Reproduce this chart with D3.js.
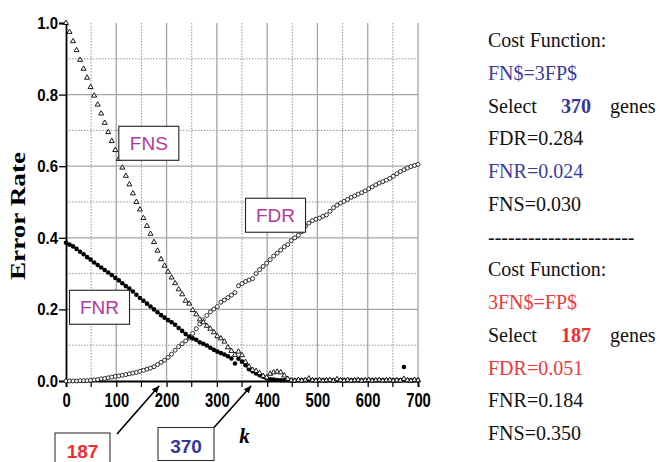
<!DOCTYPE html>
<html>
<head>
<meta charset="utf-8">
<script src="https://cdn.jsdelivr.net/npm/d3@7"></script>
<style>
  body { margin: 0; background: #fff; }
  svg { display: block; }
</style>
</head>
<body>
<svg id="chart" width="660" height="462"></svg>
<script>
// k values (number of selected genes)
const kValues = [
  0, 7, 14, 21, 28, 35, 42, 49, 56, 63,
  70, 77, 84, 91, 98, 105, 112, 119, 126, 133,
  140, 147, 154, 161, 168, 175, 182, 189, 196, 203,
  210, 217, 224, 231, 238, 245, 252, 259, 266, 273,
  280, 287, 294, 301, 308, 315, 322, 329, 336, 343,
  350, 357, 364, 371, 378, 385, 392, 399, 406, 413,
  420, 427, 434, 441, 448, 455, 462, 469, 476, 483,
  490, 497, 504, 511, 518, 525, 532, 539, 546, 553,
  560, 567, 574, 581, 588, 595, 602, 609, 616, 623,
  630, 637, 644, 651, 658, 665, 672, 679, 686, 693,
  700
];

const fnsValues = [
  1.000, 0.975, 0.949, 0.924, 0.897, 0.872, 0.847, 0.821, 0.797, 0.772,
  0.747, 0.721, 0.695, 0.670, 0.645, 0.620, 0.596, 0.573, 0.549, 0.524,
  0.500, 0.479, 0.455, 0.433, 0.411, 0.388, 0.364, 0.340, 0.322, 0.305,
  0.289, 0.273, 0.256, 0.242, 0.224, 0.216, 0.198, 0.186, 0.172, 0.164,
  0.154, 0.146, 0.136, 0.125, 0.119, 0.110, 0.094, 0.084, 0.073, 0.082,
  0.072, 0.053, 0.040, 0.031, 0.028, 0.022, 0.014, 0.010, 0.020, 0.024,
  0.026, 0.024, 0.015, 0.006, 0.002, 0.001, 0.003, 0.001, 0.003, 0.007,
  0.002, 0.001, 0.003, 0.001, 0.002, 0.003, 0.001, 0.005, 0.002, 0.001,
  0.003, 0.001, 0.002, 0.003, 0.001, 0.002, 0.003, 0.001, 0.002, 0.003,
  0.001, 0.002, 0.003, 0.001, 0.002, 0.001, 0.006, 0.002, 0.001, 0.003,
  0.002
];

const fnrValues = [
  0.386, 0.381, 0.376, 0.369, 0.361, 0.354, 0.346, 0.339, 0.331, 0.324,
  0.317, 0.310, 0.303, 0.296, 0.288, 0.281, 0.273, 0.265, 0.258, 0.250,
  0.241, 0.232, 0.224, 0.216, 0.208, 0.200, 0.192, 0.184, 0.177, 0.170,
  0.164, 0.157, 0.148, 0.140, 0.131, 0.124, 0.119, 0.115, 0.108, 0.104,
  0.099, 0.093, 0.087, 0.082, 0.078, 0.074, 0.069, 0.063, 0.049, 0.062,
  0.054, 0.044, 0.033, 0.027, 0.021, 0.016, 0.012, 0.008, 0.005, 0.004,
  0.003, 0.002, 0.002, 0.002, 0.002, 0.001, 0.002, 0.002, 0.002, 0.003,
  0.002, 0.002, 0.002, 0.002, 0.002, 0.002, 0.002, 0.002, 0.002, 0.002,
  0.002, 0.002, 0.002, 0.002, 0.002, 0.002, 0.002, 0.002, 0.002, 0.002,
  0.002, 0.002, 0.002, 0.002, 0.002, 0.002, 0.039, 0.002, 0.002, 0.002,
  0.002
];

const fdrValues = [
  0.000, 0.000, 0.000, 0.000, 0.001, 0.001, 0.001, 0.002, 0.003, 0.004,
  0.006, 0.007, 0.009, 0.011, 0.013, 0.014, 0.016, 0.018, 0.020, 0.022,
  0.024, 0.027, 0.030, 0.033, 0.036, 0.040, 0.046, 0.052, 0.058, 0.066,
  0.075, 0.086, 0.096, 0.104, 0.112, 0.120, 0.133, 0.146, 0.159, 0.171,
  0.183, 0.193, 0.201, 0.208, 0.220, 0.226, 0.233, 0.240, 0.247, 0.266,
  0.272, 0.278, 0.282, 0.286, 0.300, 0.311, 0.320, 0.329, 0.339, 0.349,
  0.357, 0.366, 0.375, 0.381, 0.392, 0.400, 0.407, 0.417, 0.432, 0.441,
  0.448, 0.452, 0.455, 0.460, 0.464, 0.474, 0.484, 0.491, 0.497, 0.502,
  0.507, 0.513, 0.517, 0.522, 0.526, 0.531, 0.537, 0.542, 0.548, 0.553,
  0.557, 0.561, 0.566, 0.572, 0.579, 0.585, 0.590, 0.595, 0.599, 0.602,
  0.605
];

const xTicks = [0, 100, 200, 300, 400, 500, 600, 700];
const xMinorTicks = [50, 150, 250, 350, 450, 550, 650];
const yTicks = [0, 0.2, 0.4, 0.6, 0.8, 1.0];
const yMinorTicks = [0.1, 0.3, 0.5, 0.7, 0.9];

// series name tags (left edge k, centre value)
const seriesLabels = ['FNS', 'FDR', 'FNR'];
const seriesLabelAt = [[105, 0.664], [357, 0.463], [7, 0.206]];

// selected gene counts
const calloutK = [187, 370];
const calloutText = ['187', '370'];
const calloutColor = ['#ec2f35', '#33379a'];

// right-hand text panel
const panelLines = [
  [['Cost Function:', '#111', 'normal']],
  [['FN$=3FP$', '#3a3d9c', 'normal']],
  [['Select', '#111', 'normal'], ['370', '#33379a', 'bold'], ['genes', '#111', 'normal']],
  [['FDR=0.284', '#111', 'normal']],
  [['FNR=0.024', '#3a3d9c', 'normal']],
  [['FNS=0.030', '#111', 'normal']],
  [['----------------------', '#111', 'normal']],
  [['Cost Function:', '#111', 'normal']],
  [['3FN$=FP$', '#ec3a3a', 'normal']],
  [['Select', '#111', 'normal'], ['187', '#ec2f35', 'bold'], ['genes', '#111', 'normal']],
  [['FDR=0.051', '#ec3a3a', 'normal']],
  [['FNR=0.184', '#111', 'normal']],
  [['FNS=0.350', '#111', 'normal']]
];

const margin = { top: 23, left: 66 };
const width = 352;
const height = 358;

const svg = d3.select('#chart');

svg.append('defs').append('marker')
    .attr('id', 'arrow')
    .attr('viewBox', '0 0 10 10')
    .attr('refX', 9)
    .attr('refY', 5)
    .attr('markerWidth', 5)
    .attr('markerHeight', 5)
    .attr('orient', 'auto')
  .append('path')
    .attr('d', 'M0,1 L10,5 L0,9 Z')
    .attr('fill', '#000');

const root = svg.append('g')
    .attr('transform', `translate(${margin.left},${margin.top})`);

const x = d3.scaleLinear().domain([0, 700]).range([0, width]);
const y = d3.scaleLinear().domain([0, 1]).range([height, 0]);

// grid
const grid = root.append('g');
grid.selectAll('.vmin').data(xMinorTicks).join('line')
    .attr('x1', d => x(d)).attr('x2', d => x(d))
    .attr('y1', 0).attr('y2', height)
    .attr('stroke', '#8a8a8a').attr('stroke-width', 0.9)
    .attr('stroke-dasharray', '1.5,1.5');
grid.selectAll('.hmin').data(yMinorTicks).join('line')
    .attr('x1', 0).attr('x2', width)
    .attr('y1', d => y(d)).attr('y2', d => y(d))
    .attr('stroke', '#8a8a8a').attr('stroke-width', 0.9)
    .attr('stroke-dasharray', '1.5,1.5');
grid.selectAll('.vmaj').data(xTicks.slice(1)).join('line')
    .attr('x1', d => x(d)).attr('x2', d => x(d))
    .attr('y1', 0).attr('y2', height)
    .attr('stroke', '#a6a6a6').attr('stroke-width', 1.3);
grid.selectAll('.hmaj').data(yTicks.slice(1, -1)).join('line')
    .attr('x1', 0).attr('x2', width)
    .attr('y1', d => y(d)).attr('y2', d => y(d))
    .attr('stroke', '#a6a6a6').attr('stroke-width', 1.3);

// axes
const xAxis = root.append('g')
    .attr('transform', `translate(0,${height})`)
    .call(d3.axisBottom(x).tickValues(xTicks).tickSize(6).tickPadding(6).tickFormat(d3.format('d')));
root.append('g')
    .attr('transform', `translate(0,${height})`)
  .selectAll('line').data(xMinorTicks).join('line')
    .attr('x1', d => x(d)).attr('x2', d => x(d))
    .attr('y1', 0).attr('y2', 6)
    .attr('stroke', '#000').attr('stroke-width', 1.2);
const yAxis = root.append('g')
    .call(d3.axisLeft(y).tickValues(yTicks).tickSize(7).tickPadding(2).tickFormat(d3.format('.1f')));

[xAxis, yAxis].forEach(ax => {
  ax.select('.domain').attr('stroke', '#000').attr('stroke-width', 1.8);
  ax.selectAll('.tick line').attr('stroke', '#000').attr('stroke-width', 1.3);
});
xAxis.selectAll('.tick text')
    .attr('font-family', 'Liberation Sans, Arial, sans-serif')
    .attr('font-weight', 'bold')
    .attr('font-size', 20)
    .attr('fill', '#000')
    .attr('transform', 'scale(0.74,1)');
yAxis.selectAll('.tick text')
    .attr('font-family', 'Liberation Sans, Arial, sans-serif')
    .attr('font-weight', 'bold')
    .attr('font-size', 17)
    .attr('fill', '#000')
    .attr('transform', 'scale(0.88,1)');

// axis titles
root.append('text')
    .attr('transform', `translate(${25 - margin.left},${216 - margin.top}) rotate(-90)`)
    .attr('text-anchor', 'middle')
    .attr('font-family', 'Liberation Serif, Times New Roman, serif')
    .attr('font-weight', 'bold')
    .attr('font-size', 21)
    .attr('textLength', 128)
    .attr('lengthAdjust', 'spacingAndGlyphs')
    .text('Error Rate');

root.append('text')
    .attr('x', x(355))
    .attr('y', height + 62)
    .attr('text-anchor', 'middle')
    .attr('font-family', 'Liberation Serif, Times New Roman, serif')
    .attr('font-style', 'italic')
    .attr('font-weight', 'bold')
    .attr('font-size', 21)
    .text('k');

// series
const plot = root.append('g');
const fdrPoints = kValues.map((k, i) => ({ k, v: fdrValues[i] }));
const fnsPoints = kValues.map((k, i) => ({ k, v: fnsValues[i] }));
const fnrPoints = kValues.map((k, i) => ({ k, v: fnrValues[i] }));

plot.append('g').selectAll('circle').data(fdrPoints).join('circle')
    .attr('cx', d => x(d.k)).attr('cy', d => y(d.v))
    .attr('r', 2)
    .attr('fill', '#fff').attr('stroke', '#000').attr('stroke-width', 0.8);

plot.append('g').selectAll('circle').data(fnrPoints).join('circle')
    .attr('cx', d => x(d.k)).attr('cy', d => y(d.v))
    .attr('r', 2.3)
    .attr('fill', '#000');

const tri = d3.symbol(d3.symbolTriangle, 11);
plot.append('g').selectAll('path').data(fnsPoints).join('path')
    .attr('d', tri)
    .attr('transform', d => `translate(${x(d.k)},${y(d.v)})`)
    .attr('fill', '#fff').attr('stroke', '#000').attr('stroke-width', 0.9);

// series name boxes
const tags = root.append('g');
seriesLabels.forEach((name, i) => {
  const [kx, vy] = seriesLabelAt[i];
  const g = tags.append('g').attr('transform', `translate(${x(kx)},${y(vy)})`);
  g.append('rect')
      .attr('x', 0).attr('y', -17)
      .attr('width', 60).attr('height', 34)
      .attr('fill', '#fff').attr('stroke', '#222').attr('stroke-width', 1.1);
  g.append('text')
      .attr('x', 30).attr('y', 7)
      .attr('text-anchor', 'middle')
      .attr('font-family', 'Liberation Sans, Arial, sans-serif')
      .attr('font-size', 19)
      .attr('fill', '#b2389e')
      .text(name);
});

// callouts under the axis
const boxAt = [[-11, 410], [92, 404.5]];
const boxSize = [[55, 50], [56, 33]];
const tailAt = [[51, 411], [148, 404.5]];
calloutK.forEach((k, i) => {
  const [bx, by] = boxAt[i];
  root.append('line')
      .attr('x1', tailAt[i][0]).attr('y1', tailAt[i][1])
      .attr('x2', x(k) - 1).attr('y2', height + 5)
      .attr('stroke', '#000').attr('stroke-width', 1.6)
      .attr('marker-end', 'url(#arrow)');
  root.append('rect')
      .attr('x', bx).attr('y', by)
      .attr('width', boxSize[i][0]).attr('height', boxSize[i][1])
      .attr('fill', '#fff').attr('stroke', '#333').attr('stroke-width', 1.1);
  root.append('text')
      .attr('x', bx + boxSize[i][0] / 2)
      .attr('y', by + 25)
      .attr('text-anchor', 'middle')
      .attr('font-family', 'Liberation Sans, Arial, sans-serif')
      .attr('font-weight', 'bold')
      .attr('font-size', 19)
      .attr('fill', calloutColor[i])
      .text(calloutText[i]);
});

// right text panel
const panel = svg.append('g')
    .attr('font-family', 'Liberation Serif, Times New Roman, serif')
    .attr('font-size', 20);
const partX = [488, 561, 610];
panelLines.forEach((parts, i) => {
  const t = panel.append('text')
      .attr('y', 47 + i * 32.75);
  parts.forEach((p, j) => {
    t.append('tspan')
        .attr('x', partX[j])
        .attr('fill', p[1])
        .attr('font-weight', p[2])
        .text(p[0]);
  });
});
</script>
</body>
</html>
